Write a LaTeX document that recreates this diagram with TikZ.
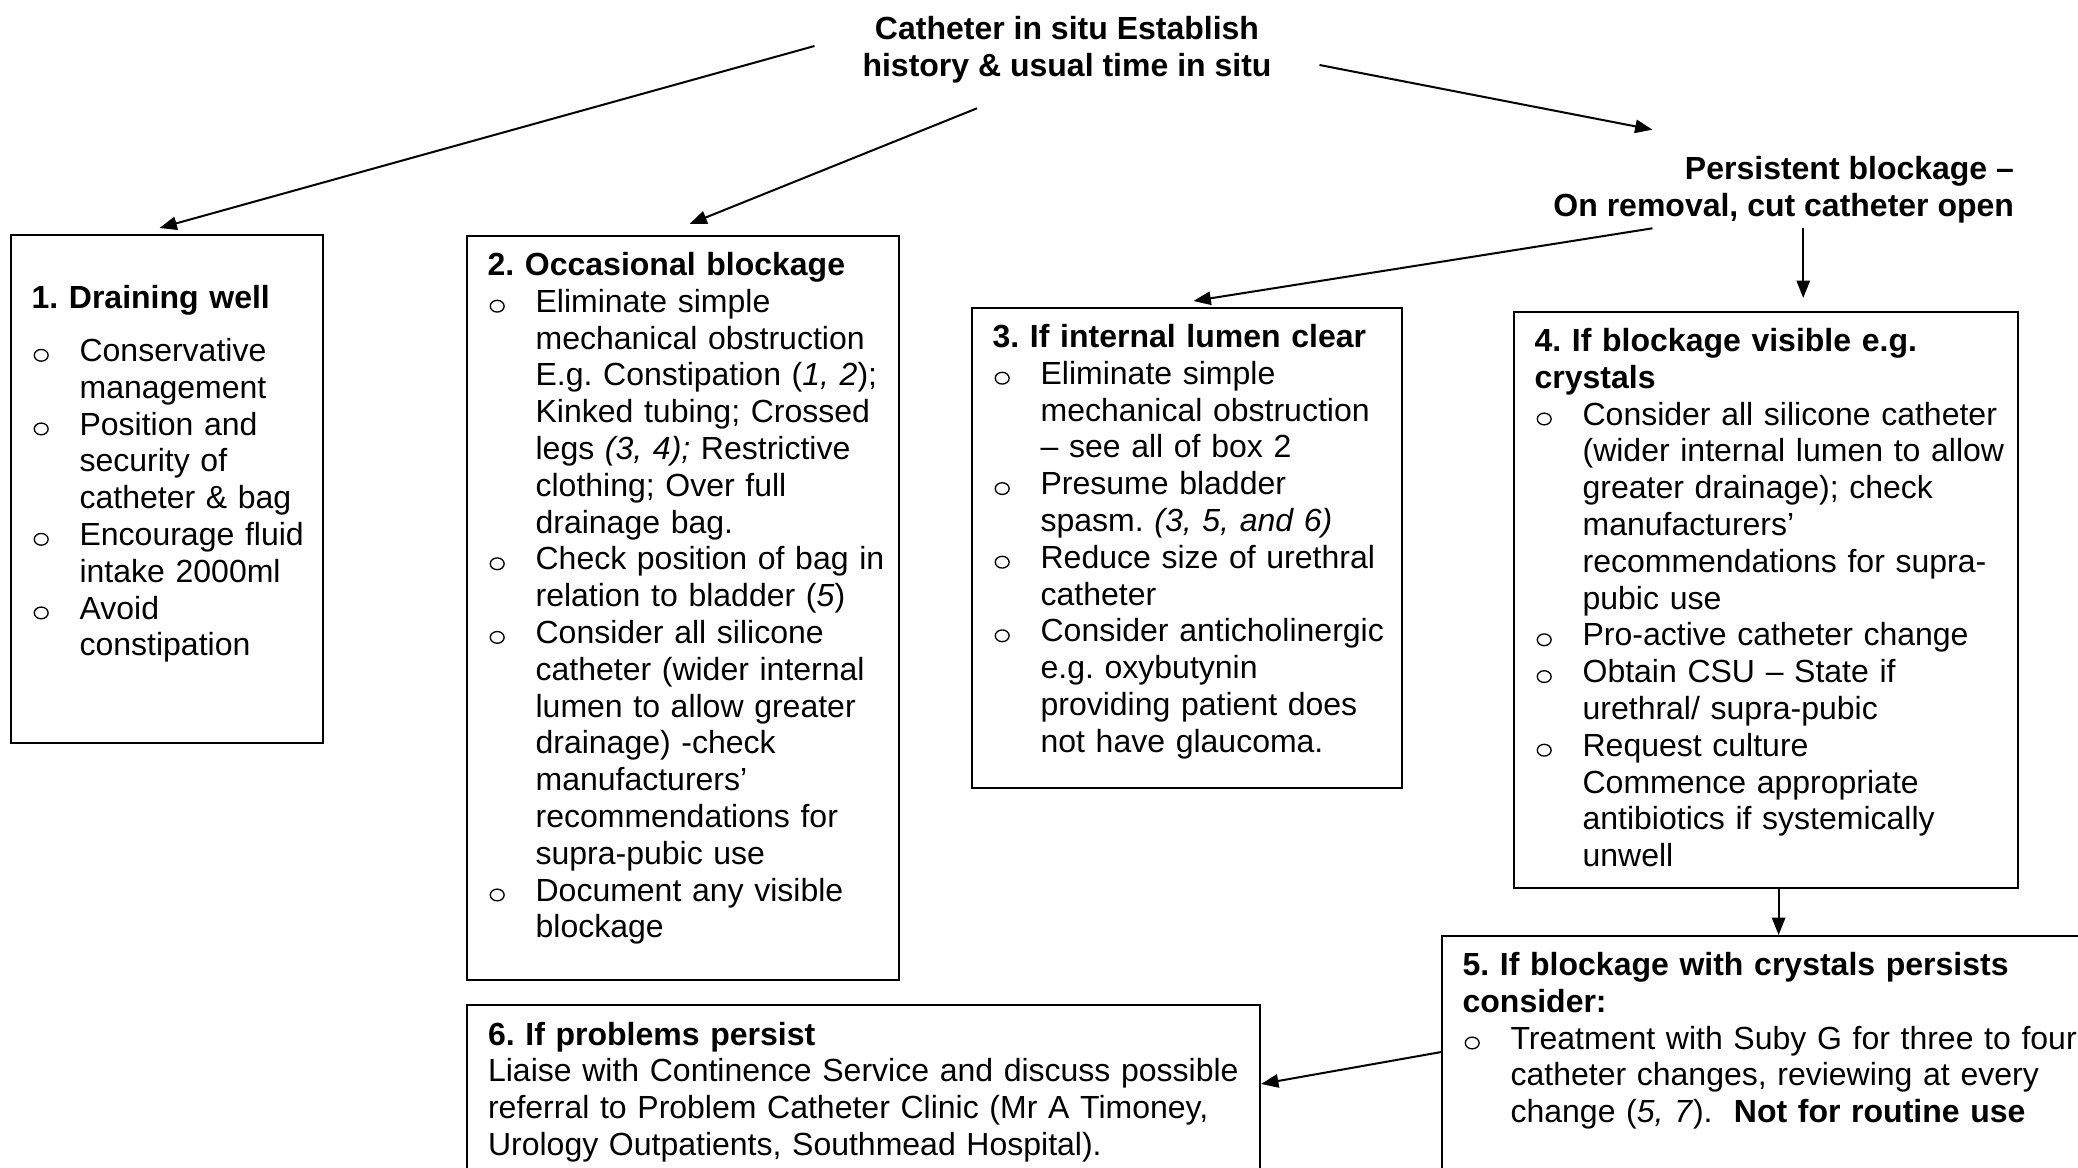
\documentclass[tikz,border=0pt]{standalone}
\usepackage{fontspec}
\setmainfont{Liberation Sans}
\usetikzlibrary{arrows.meta}

\newcommand{\boxfont}{\fontsize{12}{13.8}\selectfont\frenchspacing}
\newcommand{\bulmark}{\hspace{0.75pt}\tikz[baseline=0pt]\draw[line width=0.5pt] (0,2.3pt) ellipse (2.6pt and 2.2pt);}
\newcommand{\itm}[1]{\par{\advance\leftskip 18pt\noindent\llap{\makebox[18pt][l]{\bulmark}}#1\par}}

\tikzset{
  stepbox/.style={draw, anchor=north west, inner xsep=0pt, inner ysep=5.3pt,
    text height=9.7pt, execute at begin node={\raggedright\leftskip=7.9pt\relax}},
  headtext/.style={font=\boxfont\bfseries, inner sep=0pt}
}

\begin{document}
\begin{tikzpicture}[x=0.375pt, y=-0.375pt, >={Triangle[length=6.5pt,width=5pt]},
  line width=0.75pt, font=\boxfont]

\useasboundingbox (0,0) rectangle (2078,1168);
\clip (0,0) rectangle (2078,1168);

% top labels
\node [headtext, align=center] (title) at (1067,50)
  {Catheter in situ Establish\\history \& usual time in situ};
\node [headtext, align=right, anchor=east] (persist) at (2015,190)
  {Persistent blockage --\\On removal, cut catheter open};

% boxes
\node [stepbox, text width=117pt, text depth=170.2pt] (box1) at (10,234) {%
  \mbox{}\par\vspace{-1.1pt}
  \textbf{1. Draining well}\par\vspace{6.1pt}
  \itm{Conservative\\management}
  \itm{Position and\\security of\\catheter \& bag}
  \itm{Encourage fluid\\intake 2000ml}
  \itm{Avoid\\constipation}};

\node [stepbox, text width=162pt, text depth=258.7pt] (box2) at (466,235) {%
  \textbf{2. Occasional blockage}
  \itm{Eliminate simple\\mechanical obstruction\\E.g. Constipation (\textit{1, 2});\\Kinked tubing; Crossed\\legs \textit{(3, 4);} Restrictive\\clothing; Over full\\drainage bag.}
  \itm{Check position of bag in\\relation to bladder (\textit{5})}
  \itm{Consider all silicone\\catheter (wider internal\\lumen to allow greater\\drainage) -check\\manufacturers’\\recommendations for\\supra-pubic use}
  \itm{Document any visible\\blockage}};

\node [stepbox, text width=161.6pt, text depth=159.7pt] (box3) at (971,307) {%
  \textbf{3. If internal lumen clear}
  \itm{Eliminate simple\\mechanical obstruction\\-- see all of box 2}
  \itm{Presume bladder\\spasm. \textit{(3, 5, and 6)}}
  \itm{Reduce size of urethral\\catheter}
  \itm{Consider anticholinergic\\e.g. oxybutynin\\providing patient does\\not have glaucoma.}};

\node [stepbox, text width=189pt, text depth=195.7pt] (box4) at (1513,311) {%
  \textbf{4. If blockage visible e.g.\\crystals}
  \itm{Consider all silicone catheter\\(wider internal lumen to allow\\greater drainage); check\\manufacturers’\\recommendations for supra-\\pubic use}
  \itm{Pro-active catheter change}
  \itm{Obtain CSU -- State if\\urethral/ supra-pubic}
  \itm{Request culture\\Commence appropriate\\antibiotics if systemically\\unwell}};

\node [stepbox, text width=258.4pt, text depth=97.8pt] (box5) at (1441,935) {%
  \textbf{5. If blockage with crystals persists\\consider:}
  \itm{Treatment with Suby G for three to four\\catheter changes, reviewing at every\\change (\textit{5, 7}).\ \ \textbf{Not for routine use}}};

\node [stepbox, text width=297.4pt, text depth=72pt] (box6) at (466,1004) {%
  \textbf{6. If problems persist}\par
  Liaise with Continence Service and discuss possible\\referral to Problem Catheter Clinic (Mr A Timoney,\\Urology Outpatients, Southmead Hospital).};

% connectors
\draw [->] ([shift={(-47,-4)}]title.west) -- ([shift={(-7,-6)}]box1.north);
\draw [->] ([shift={(-90,24)}]title.south) -- ([shift={(7,-11)}]box2.north);
\draw [->] ([shift={(47,15)}]title.east) -- ([shift={(100,-26)}]persist.north west);
\draw [->] ([shift={(100,4)}]persist.south west) -- ([shift={(6.5,-6)}]box3.north);
\draw [->, shorten >=4.9pt] ([shift={(19.5,4)}]persist.south) coordinate (a5)
  -- (a5 |- box4.north);
\draw [->] ([xshift=4.9pt]box4.south) coordinate (a6) -- (a6 |- box5.north);
\draw [->] ([yshift=-43.9pt]box5.north west) -- ([yshift=-30pt]box6.north east);

\end{tikzpicture}
\end{document}
